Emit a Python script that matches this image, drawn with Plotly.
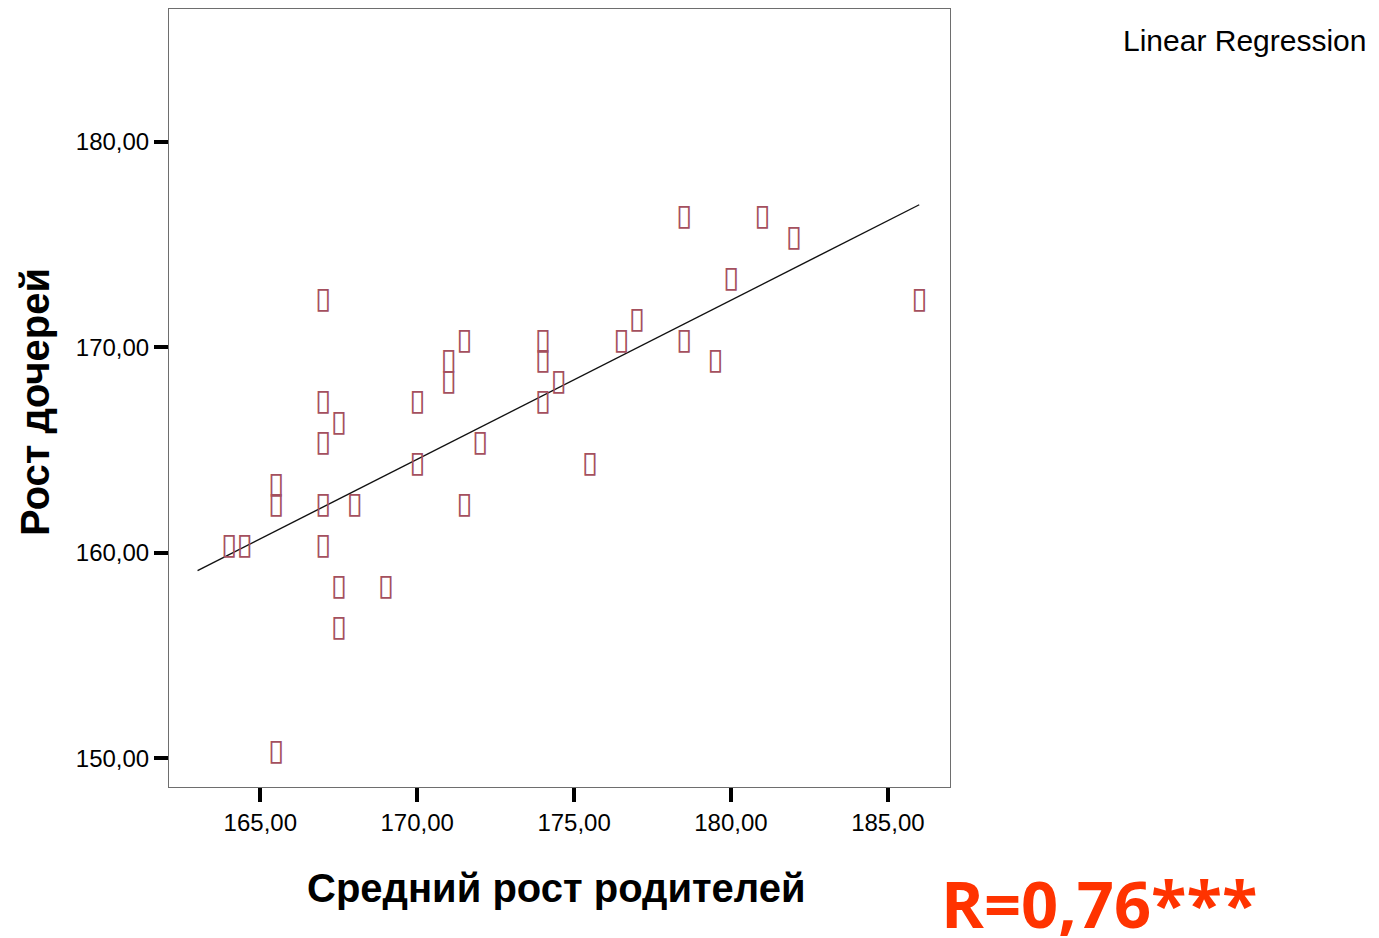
import numpy as np
import plotly.graph_objects as go

# ---- data ----
parents_height = [167, 167, 167.5, 167, 165.5, 165.5, 164, 164.5, 167, 168, 167, 167.5, 169, 167.5, 165.5,
                  171.5, 171, 171, 170, 174, 174, 174.5, 174, 172, 170, 175.5, 171.5,
                  178.5, 181, 182, 180, 186, 177, 176.5, 178.5, 179.5]
daughters_height = [172, 167, 166, 165, 163, 162, 160, 160, 162, 162, 160, 158, 158, 156, 150,
                    170, 169, 168, 167, 170, 169, 168, 167, 165, 164, 164, 162,
                    176, 176, 175, 173, 172, 171, 170, 170, 169]
fit_x_span = [163, 186]
x_tick_vals = [165, 170, 175, 180, 185]
x_tick_text = ["165,00", "170,00", "175,00", "180,00", "185,00"]
y_tick_vals = [150, 160, 170, 180]
y_tick_text = ["150,00", "160,00", "170,00", "180,00"]

slope, intercept = np.polyfit(parents_height, daughters_height, 1)
fit_x = np.array(fit_x_span, dtype=float)
fit_y = intercept + slope * fit_x

W, H = 1379, 938
L, R, T, B = 169, 429, 9, 151
PW, PH = W - L - R, H - T - B
Y_RANGE = [148.60, 186.46]
X_RANGE = [162.09, 186.98]

# the SPSS marker glyph is drawn slightly above its point; lift in pixels
GLYPH_LIFT_PX = 6
lift = GLYPH_LIFT_PX * (Y_RANGE[1] - Y_RANGE[0]) / PH
glyph_y = [v + lift for v in daughters_height]


def px(xp):
    return (xp - L) / PW


def py(yp):
    return (H - B - yp) / PH


fig = go.Figure()
fig.add_trace(go.Scatter(
    x=fit_x, y=fit_y, mode="lines",
    line=dict(color="#111111", width=1.4),
    hoverinfo="skip", showlegend=False,
))
fig.add_trace(go.Scatter(
    x=parents_height, y=glyph_y, mode="text",
    text=["\u25af"] * len(parents_height),
    textposition="middle center",
    textfont=dict(family="DejaVu Sans", size=30, color="#A4505E"),
    showlegend=False,
))

tickfont = dict(family="Liberation Sans, Arial", size=24, color="black")
fig.update_layout(
    width=W, height=H,
    margin=dict(l=L, r=R, t=T, b=B),
    paper_bgcolor="white", plot_bgcolor="white",
    showlegend=False,
    xaxis=dict(range=X_RANGE, tickvals=x_tick_vals, ticktext=x_tick_text,
               showgrid=False, zeroline=False, showline=True, mirror=True,
               linecolor="#6e6e6e", linewidth=1,
               ticks="outside", ticklen=14, tickwidth=4, tickcolor="black",
               tickfont=tickfont),
    yaxis=dict(range=Y_RANGE, tickvals=y_tick_vals, ticktext=y_tick_text,
               showgrid=False, zeroline=False, showline=True, mirror=True,
               linecolor="#6e6e6e", linewidth=1,
               ticks="outside", ticklen=14, tickwidth=4, tickcolor="black",
               tickfont=tickfont),
)

fig.add_annotation(text="Рост дочерей", textangle=-90, showarrow=False,
                   xref="paper", yref="paper", x=px(35), y=py(402),
                   xanchor="center", yanchor="middle",
                   font=dict(family="Liberation Sans, Arial", size=40, color="black", weight="bold"))
fig.add_annotation(text="Средний рост родителей", showarrow=False,
                   xref="paper", yref="paper", x=px(556), y=py(888),
                   xanchor="center", yanchor="middle",
                   font=dict(family="Liberation Sans, Arial", size=40, color="black", weight="bold"))
fig.add_annotation(text="Linear Regression", showarrow=False,
                   xref="paper", yref="paper", x=px(1121), y=py(41),
                   xanchor="left", yanchor="middle",
                   font=dict(family="Liberation Sans, Arial", size=30, color="black"))
fig.add_annotation(text="R=0,76***", showarrow=False,
                   xref="paper", yref="paper", x=px(939), y=py(903),
                   xanchor="left", yanchor="middle",
                   font=dict(family="Open Sans", size=65, color="#FF3300", weight="bold"))

fig.write_html("out.html")
